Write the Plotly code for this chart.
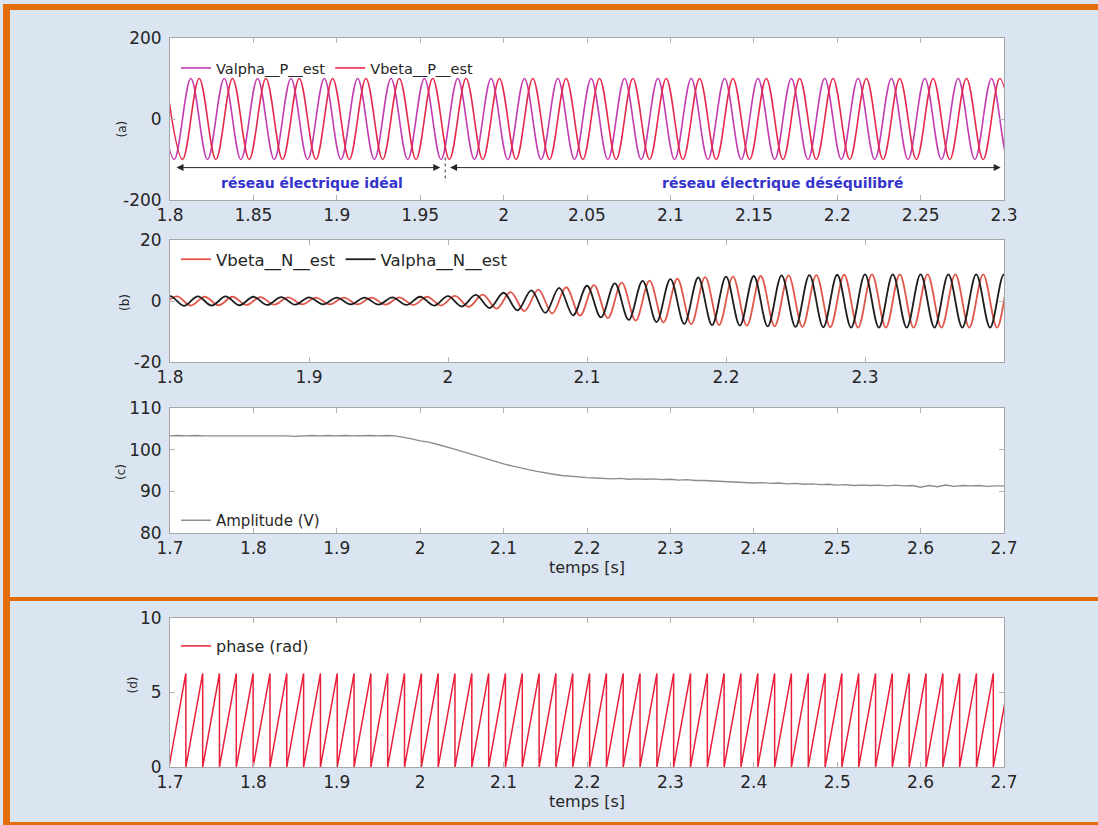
import plotly.graph_objects as go

# ---------------------------------------------------------------------------
# (a) positive-sequence voltage estimates: instants / values of crests & troughs
valpha_p_t = [1.7925, 1.8025, 1.8125, 1.8225, 1.8325, 1.8425, 1.8525, 1.8625, 1.8725, 1.8825,
              1.8925, 1.9025, 1.9125, 1.9225, 1.9325, 1.9425, 1.9525, 1.9625, 1.9725, 1.9825,
              1.9925, 2.0025, 2.0125, 2.0225, 2.0325, 2.0425, 2.0525, 2.0625, 2.0725, 2.0825,
              2.0925, 2.1025, 2.1125, 2.1225, 2.1325, 2.1425, 2.1525, 2.1625, 2.1725, 2.1825,
              2.1925, 2.2025, 2.2125, 2.2225, 2.2325, 2.2425, 2.2525, 2.2625, 2.2725, 2.2825,
              2.2925, 2.3025, 2.3125]
valpha_p_v = [100, -100, 100, -100, 100, -100, 100, -100, 100, -100,
              100, -100, 100, -100, 100, -100, 100, -100, 100, -100,
              100, -100, 100, -100, 100, -100, 100, -100, 100, -100,
              100, -100, 100, -100, 100, -100, 100, -100, 100, -100,
              100, -100, 100, -100, 100, -100, 100, -100, 100, -100,
              100, -100, 100]
vbeta_p_t = [1.7975, 1.8075, 1.8175, 1.8275, 1.8375, 1.8475, 1.8575, 1.8675, 1.8775, 1.8875,
             1.8975, 1.9075, 1.9175, 1.9275, 1.9375, 1.9475, 1.9575, 1.9675, 1.9775, 1.9875,
             1.9975, 2.0075, 2.0175, 2.0275, 2.0375, 2.0475, 2.0575, 2.0675, 2.0775, 2.0875,
             2.0975, 2.1075, 2.1175, 2.1275, 2.1375, 2.1475, 2.1575, 2.1675, 2.1775, 2.1875,
             2.1975, 2.2075, 2.2175, 2.2275, 2.2375, 2.2475, 2.2575, 2.2675, 2.2775, 2.2875,
             2.2975, 2.3075]
vbeta_p_v = [100, -100, 100, -100, 100, -100, 100, -100, 100, -100,
             100, -100, 100, -100, 100, -100, 100, -100, 100, -100,
             100, -100, 100, -100, 100, -100, 100, -100, 100, -100,
             100, -100, 100, -100, 100, -100, 100, -100, 100, -100,
             100, -100, 100, -100, 100, -100, 100, -100, 100, -100,
             100, -100]

# (b) negative-sequence voltage estimates: instants / values of crests & troughs
valpha_n_t = [1.79, 1.80, 1.81, 1.82, 1.83, 1.84, 1.85, 1.86, 1.87, 1.88,
              1.89, 1.90, 1.91, 1.92, 1.93, 1.94, 1.95, 1.96, 1.97, 1.98,
              1.99, 2.00, 2.01, 2.02, 2.03, 2.04, 2.05, 2.06, 2.07, 2.08,
              2.09, 2.10, 2.11, 2.12, 2.13, 2.14, 2.15, 2.16, 2.17, 2.18,
              2.19, 2.20, 2.21, 2.22, 2.23, 2.24, 2.25, 2.26, 2.27, 2.28,
              2.29, 2.30, 2.31, 2.32, 2.33, 2.34, 2.35, 2.36, 2.37, 2.38,
              2.39, 2.40, 2.41]
valpha_n_v = [-1.6, 1.6, -1.6, 1.5, -1.5, 1.5, -1.4, 1.4, -1.3, 1.3,
              -1.2, 1.2, -1.1, 1.1, -1.1, 1.1, -1.2, 1.2, -1.3, 1.4,
              -1.5, 1.6, -1.8, 2.0, -2.3, 2.7, -3.1, 3.5, -3.9, 4.3,
              -4.7, 5.0, -5.4, 5.8, -6.2, 6.6, -6.9, 7.2, -7.5, 7.7,
              -7.9, 8.0, -8.1, 8.2, -8.3, 8.4, -8.5, 8.5, -8.6, 8.6,
              -8.7, 8.7, -8.7, 8.7, -8.7, 8.7, -8.7, 8.7, -8.7, 8.7,
              -8.7, 8.7, -8.7]
vbeta_n_t = [1.795, 1.805, 1.815, 1.825, 1.835, 1.845, 1.855, 1.865, 1.875, 1.885,
             1.895, 1.905, 1.915, 1.925, 1.935, 1.945, 1.955, 1.965, 1.975, 1.985,
             1.995, 2.005, 2.015, 2.025, 2.035, 2.045, 2.055, 2.065, 2.075, 2.085,
             2.095, 2.105, 2.115, 2.125, 2.135, 2.145, 2.155, 2.165, 2.175, 2.185,
             2.195, 2.205, 2.215, 2.225, 2.235, 2.245, 2.255, 2.265, 2.275, 2.285,
             2.295, 2.305, 2.315, 2.325, 2.335, 2.345, 2.355, 2.365, 2.375, 2.385,
             2.395, 2.405, 2.415]
vbeta_n_v = [-1.5, 1.5, -1.5, 1.4, -1.4, 1.4, -1.3, 1.3, -1.2, 1.2,
             -1.1, 1.1, -1.1, 1.1, -1.1, 1.1, -1.2, 1.2, -1.3, 1.4,
             -1.5, 1.7, -1.9, 2.1, -2.5, 2.9, -3.3, 3.7, -4.1, 4.5,
             -4.8, 5.2, -5.6, 6.0, -6.4, 6.7, -7.0, 7.3, -7.6, 7.8,
             -7.9, 8.0, -8.1, 8.2, -8.3, 8.4, -8.5, 8.5, -8.6, 8.6,
             -8.7, 8.7, -8.7, 8.7, -8.7, 8.7, -8.7, 8.7, -8.7, 8.7,
             -8.7, 8.7, -8.7]

# (c) estimated amplitude (V)
amp_t = [1.70, 1.71, 1.72, 1.73, 1.74, 1.75, 1.76, 1.77, 1.78, 1.79,
         1.80, 1.81, 1.82, 1.83, 1.84, 1.85, 1.86, 1.87, 1.88, 1.89,
         1.90, 1.91, 1.92, 1.93, 1.94, 1.95, 1.96, 1.97, 1.98, 1.99,
         2.00, 2.01, 2.02, 2.03, 2.04, 2.05, 2.06, 2.07, 2.08, 2.09,
         2.10, 2.11, 2.12, 2.13, 2.14, 2.15, 2.16, 2.17, 2.18, 2.19,
         2.20, 2.21, 2.22, 2.23, 2.24, 2.25, 2.26, 2.27, 2.28, 2.29,
         2.30, 2.31, 2.32, 2.33, 2.34, 2.35, 2.36, 2.37, 2.38, 2.39,
         2.40, 2.41, 2.42, 2.43, 2.44, 2.45, 2.46, 2.47, 2.48, 2.49,
         2.50, 2.51, 2.52, 2.53, 2.54, 2.55, 2.56, 2.57, 2.58, 2.59,
         2.60, 2.61, 2.62, 2.63, 2.64, 2.65, 2.66, 2.67, 2.68, 2.69,
         2.70]
amp_v = [103.3, 103.4, 103.3, 103.4, 103.3, 103.3, 103.4, 103.3, 103.4, 103.3,
         103.4, 103.3, 103.3, 103.4, 103.3, 103.2, 103.3, 103.4, 103.3, 103.4,
         103.3, 103.4, 103.3, 103.4, 103.4, 103.3, 103.4, 103.3, 103.0, 102.6,
         102.1, 101.8, 101.3, 100.8, 100.2, 99.6, 99.0, 98.4, 97.7, 97.2,
         96.6, 96.1, 95.6, 95.2, 94.8, 94.4, 94.1, 93.8, 93.6, 93.4,
         93.3, 93.2, 93.1, 93.0, 93.1, 92.9, 93.0, 92.9, 93.0, 92.8,
         92.9, 92.7, 92.8, 92.6, 92.6, 92.5, 92.4, 92.4, 92.2, 92.2,
         92.0, 92.1, 91.9, 92.0, 91.8, 91.9, 91.7, 91.8, 91.6, 91.7,
         91.5, 91.6, 91.4, 91.5, 91.4, 91.5, 91.3, 91.5, 91.3, 91.4,
         91.0, 91.4, 91.1, 91.5, 91.2, 91.4, 91.3, 91.4, 91.2, 91.3,
         91.3]

# (d) estimated phase: instants where it wraps from 2*pi back to 0
phase_wrap_t = [1.6988, 1.7190, 1.7392, 1.7593, 1.7795, 1.7997, 1.8199, 1.8400, 1.8602, 1.8804,
                1.9005, 1.9207, 1.9409, 1.9610, 1.9812, 2.0014, 2.0216, 2.0417, 2.0619, 2.0821,
                2.1022, 2.1224, 2.1426, 2.1627, 2.1829, 2.2031, 2.2233, 2.2434, 2.2636, 2.2838,
                2.3039, 2.3241, 2.3443, 2.3644, 2.3846, 2.4048, 2.4250, 2.4451, 2.4653, 2.4855,
                2.5056, 2.5258, 2.5460, 2.5661, 2.5863, 2.6065, 2.6267, 2.6468, 2.6670, 2.6872,
                2.7073]
phase_top = 6.28

# tick labels
xa_ticks = [1.8, 1.85, 1.9, 1.95, 2.0, 2.05, 2.1, 2.15, 2.2, 2.25, 2.3]
xa_text = ["1.8", "1.85", "1.9", "1.95", "2", "2.05", "2.1", "2.15", "2.2", "2.25", "2.3"]
xb_ticks = [1.8, 1.9, 2.0, 2.1, 2.2, 2.3]
xb_text = ["1.8", "1.9", "2", "2.1", "2.2", "2.3"]
xcd_ticks = [1.7, 1.8, 1.9, 2.0, 2.1, 2.2, 2.3, 2.4, 2.5, 2.6, 2.7]
xcd_text = ["1.7", "1.8", "1.9", "2", "2.1", "2.2", "2.3", "2.4", "2.5", "2.6", "2.7"]
ya_ticks = [-200, 0, 200]
ya_text = ["-200", "0", "200"]
yb_ticks = [-20, 0, 20]
yb_text = ["-20", "0", "20"]
yc_ticks = [80, 90, 100, 110]
yc_text = ["80", "90", "100", "110"]
yd_ticks = [0, 5, 10]
yd_text = ["0", "5", "10"]

# ---------------------------------------------------------------------------
W, H = 1098, 825
FONT = "DejaVu Sans"
INK = "#262626"
ORANGE = "#e46c0a"
BG = "#dbe5f1"


def px(x):
    return x / W


def py(y):
    return 1 - y / H


# sawtooth path of the phase
phase_x, phase_y = [], []
for t0, t1 in zip(phase_wrap_t[:-1], phase_wrap_t[1:]):
    phase_x += [t0, t1]
    phase_y += [0, phase_top]

fig = go.Figure()

fig.add_trace(go.Scatter(x=valpha_p_t, y=valpha_p_v, mode="lines", name="Valpha__P__est",
                         line=dict(color="#c03cb0", width=1.6, shape="spline"),
                         xaxis="x", yaxis="y", legend="legend"))
fig.add_trace(go.Scatter(x=vbeta_p_t, y=vbeta_p_v, mode="lines", name="Vbeta__P__est",
                         line=dict(color="#e4284a", width=1.6, shape="spline"),
                         xaxis="x", yaxis="y", legend="legend"))

fig.add_trace(go.Scatter(x=vbeta_n_t, y=vbeta_n_v, mode="lines", name="Vbeta__N__est",
                         line=dict(color="#e0584c", width=1.8, shape="spline"),
                         xaxis="x2", yaxis="y2", legend="legend2"))
fig.add_trace(go.Scatter(x=valpha_n_t, y=valpha_n_v, mode="lines", name="Valpha__N__est",
                         line=dict(color="#1e1e1e", width=1.8, shape="spline"),
                         xaxis="x2", yaxis="y2", legend="legend2"))

fig.add_trace(go.Scatter(x=amp_t, y=amp_v, mode="lines", name="Amplitude (V)",
                         line=dict(color="#8c8c8c", width=1.4),
                         xaxis="x3", yaxis="y3", legend="legend3"))

fig.add_trace(go.Scatter(x=phase_x, y=phase_y, mode="lines", name="phase (rad)",
                         line=dict(color="#e8203c", width=1.5),
                         xaxis="x4", yaxis="y4", legend="legend4"))

# plot-area rectangles in pixels: (top, bottom); all share the same left/right
L, R = 170, 1004
boxes = {"a": (38, 200), "b": (240, 362), "c": (408, 533), "d": (618, 767)}


def axis_common():
    return dict(showline=True, linecolor="#a6a6a6", linewidth=1, mirror="ticks",
                ticks="inside", ticklen=5, tickcolor="#b5b5b5", showgrid=False,
                zeroline=False, automargin=False,
                tickfont=dict(family=FONT, size=17, color=INK), fixedrange=True)


def xdom():
    return [px(L), px(R)]


def ydom(key):
    top, bot = boxes[key]
    return [py(bot), py(top)]


title_font = dict(family=FONT, size=16, color=INK)

layout = dict(
    width=W, height=H, autosize=False,
    margin=dict(l=0, r=0, t=0, b=0, pad=0, autoexpand=False),
    paper_bgcolor=BG, plot_bgcolor="white",
    font=dict(family=FONT, color=INK),
    showlegend=True,
)

layout["xaxis"] = dict(axis_common(), domain=xdom(), range=[1.8, 2.3], anchor="y",
                       tickvals=xa_ticks, ticktext=xa_text)
layout["yaxis"] = dict(axis_common(), domain=ydom("a"), range=[-200, 200], anchor="x",
                       tickvals=ya_ticks, ticktext=ya_text, ticklabelstandoff=4)
layout["xaxis2"] = dict(axis_common(), domain=xdom(), range=[1.8, 2.4], anchor="y2",
                        tickvals=xb_ticks, ticktext=xb_text)
layout["yaxis2"] = dict(axis_common(), domain=ydom("b"), range=[-20, 20], anchor="x2",
                        tickvals=yb_ticks, ticktext=yb_text, ticklabelstandoff=4)
layout["xaxis3"] = dict(axis_common(), domain=xdom(), range=[1.7, 2.7], anchor="y3",
                        tickvals=xcd_ticks, ticktext=xcd_text,
                        title=dict(text="temps [s]", font=title_font, standoff=2))
layout["yaxis3"] = dict(axis_common(), domain=ydom("c"), range=[80, 110], anchor="x3",
                        tickvals=yc_ticks, ticktext=yc_text, ticklabelstandoff=4)
layout["xaxis4"] = dict(axis_common(), domain=xdom(), range=[1.7, 2.7], anchor="y4",
                        tickvals=xcd_ticks, ticktext=xcd_text,
                        title=dict(text="temps [s]", font=title_font, standoff=2))
layout["yaxis4"] = dict(axis_common(), domain=ydom("d"), range=[0, 10], anchor="x4",
                        tickvals=yd_ticks, ticktext=yd_text, ticklabelstandoff=4)


def legend_at(x, y, size):
    return dict(x=px(x), y=py(y), xanchor="left", yanchor="top", orientation="h",
                bgcolor="rgba(0,0,0,0)", borderwidth=0,
                font=dict(family=FONT, size=size, color=INK))


layout["legend"] = legend_at(176, 52, 14.5)
layout["legend2"] = legend_at(176, 242, 16.5)
layout["legend3"] = legend_at(176, 504, 15)
layout["legend4"] = legend_at(176, 629, 16)

fig.update_layout(**layout)

# orange frames around the two groups of panels
bars = [
    (3, 4, W, 10),        # top
    (3, 4, 10, 601),      # left, upper group
    (3, 597, W, 601),     # separator
    (3, 597, 10, H),      # left, lower group
    (3, 822, W, H),       # bottom
]
for x0, y0, x1, y1 in bars:
    fig.add_shape(type="rect", xref="paper", yref="paper",
                  x0=px(x0), x1=px(x1), y0=py(y1), y1=py(y0),
                  fillcolor=ORANGE, line=dict(width=0), layer="above")

# dimension arrows in panel (a)
arrow_style = dict(xref="x", yref="y", axref="x", ayref="y", text="", showarrow=True,
                   arrowhead=2, arrowside="end+start", arrowsize=1.4, arrowwidth=1,
                   arrowcolor="#262626")
fig.add_annotation(x=1.962, y=-120, ax=1.803, ay=-120, **arrow_style)
fig.add_annotation(x=2.298, y=-120, ax=1.967, ay=-120, **arrow_style)
fig.add_shape(type="line", xref="x", yref="y", x0=1.965, x1=1.965, y0=-95, y1=-155,
              line=dict(color="#333333", width=1, dash="dot"))

zone_font = dict(family=FONT, size=14, color="#3434cc", weight="bold")
fig.add_annotation(x=1.8854, y=-158, xref="x", yref="y", showarrow=False,
                   text="réseau électrique idéal", font=zone_font)
fig.add_annotation(x=2.1675, y=-158, xref="x", yref="y", showarrow=False,
                   text="réseau électrique déséquilibré", font=zone_font)

# panel tags on the left
for tag, xp, yp in [("(a)", 112, 119), ("(b)", 116, 303), ("(c)", 112, 472), ("(d)", 123, 696)]:
    fig.add_annotation(x=px(xp), y=py(yp), xref="paper", yref="paper", showarrow=False,
                       text=tag, textangle=-90, font=dict(family=FONT, size=12, color=INK))

fig.write_html("out.html")
